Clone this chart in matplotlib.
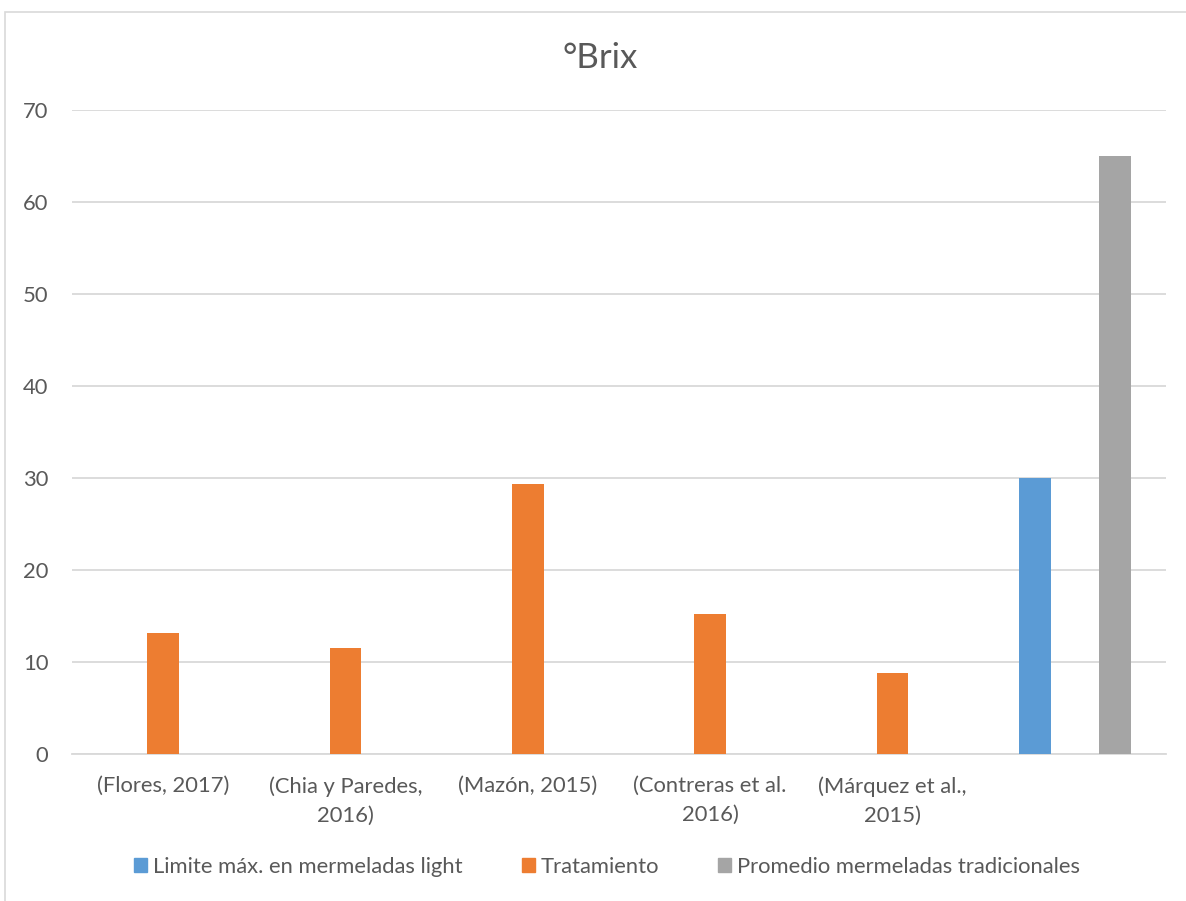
import numpy as np
import matplotlib
matplotlib.use('Agg')
import matplotlib.pyplot as plt
from matplotlib.patches import Rectangle, Patch

plt.rcParams['font.family'] = ['Lato', 'DejaVu Sans']

categories = ['(Flores, 2017)', '(Chia y Paredes,\n2016)', '(Mazón, 2015)',
              '(Contreras et al.\n2016)', '(Márquez et al.,\n2015)', '']
limite = [np.nan, np.nan, np.nan, np.nan, np.nan, 30]
tratamiento = [13.2, 11.5, 29.4, 15.2, 8.8, np.nan]
promedio = [np.nan, np.nan, np.nan, np.nan, np.nan, 65]

series_names = ['Limite máx. en mermeladas light', 'Tratamiento',
                'Promedio mermeladas tradicionales']
colors = ['#5B9BD5', '#ED7D31', '#A5A5A5']
txt = '#595959'

fig = plt.figure(figsize=(11.86, 9.01), dpi=100)
W, H = 1186, 901
ax = fig.add_axes([72 / W, 147 / H, (1166 - 72) / W, (754 - 110) / H])

x = np.arange(len(categories))
bw = 0.175
offs = [-0.22, 0.0, 0.22]
for vals, off, c in zip([limite, tratamiento, promedio], offs, colors):
    ax.bar(x + off, vals, width=bw, color=c, zorder=3)

ax.set_xlim(-0.5, len(categories) - 0.5)
ax.set_ylim(0, 70)
ax.set_yticks(range(0, 71, 10))
ax.yaxis.grid(True, color='#d9d9d9', linewidth=1.3, zorder=0)
ax.set_xticks(x)
ax.set_xticklabels(categories, fontsize=15.8, color=txt, multialignment='center',
                   linespacing=1.55)
ax.tick_params(axis='both', length=0, labelcolor=txt)
ax.tick_params(axis='y', pad=17, labelsize=15.8)
ax.tick_params(axis='x', pad=16)
for s in ['top', 'right', 'left']:
    ax.spines[s].set_visible(False)
ax.spines['bottom'].set_color('#d9d9d9')
ax.spines['bottom'].set_linewidth(1.3)

fig.text(600 / W, 1 - 58 / H, '°Brix', ha='center', va='center', fontsize=25, color=txt)

handles = [Patch(color=c) for c in colors]
fig.legend(handles, series_names, loc='center', bbox_to_anchor=(607 / W, 1 - 867 / H),
           ncol=3, frameon=False, fontsize=15.8, labelcolor=txt,
           handlelength=0.6, handleheight=0.6, handletextpad=0.25, columnspacing=2.7)

fig.add_artist(Rectangle((5 / W, -0.01), 1.2, 1 - 12 / H + 0.01, transform=fig.transFigure,
                         fill=False, edgecolor='#d9d9d9', linewidth=1.2))

fig.savefig('out.png', dpi=100)
